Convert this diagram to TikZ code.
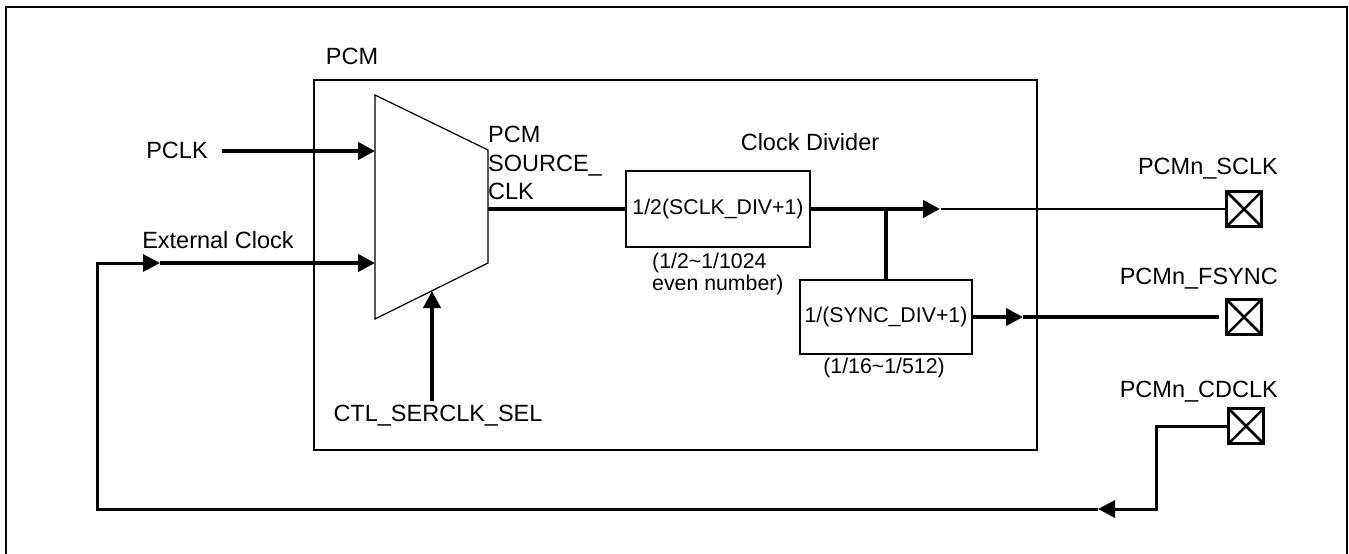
\documentclass[tikz,border=0pt]{standalone}
\usepackage{fontspec}
\setmainfont{Liberation Sans}
\usetikzlibrary{arrows.meta}
\begin{document}
\begin{tikzpicture}[x=1pt,y=-1pt,
  big/.style={font=\fontsize{23.5}{28.5}\selectfont, inner sep=0pt},
  small/.style={font=\fontsize{21.3}{22.5}\selectfont, inner sep=0pt},
  divbox/.style={draw, line width=1.2pt, inner sep=0pt, font=\fontsize{21.3}{22.5}\selectfont},
  pad/.style={draw, line width=3pt, minimum size=35pt, inner sep=0pt,
    path picture={\draw[line width=2.5pt] (path picture bounding box.north west) -- (path picture bounding box.south east)
      (path picture bounding box.north east) -- (path picture bounding box.south west);}},
  sig/.style={line width=4pt},
  fb/.style={line width=3pt},
  tip/.style={-{Triangle[length=17pt,width=17pt]}}
]
\useasboundingbox (0,0) rectangle (1349,554);
% outer frame
\draw[line width=2.2pt] (6,560) -- (6,7) -- (1347,7) -- (1347,560);
% PCM block
\node[draw, line width=1.5pt, minimum width=723pt, minimum height=370pt, inner sep=0pt, anchor=north west] (pcm) at (313,79) {};
\node[big] (pcmlbl) at (352,56) {PCM};
% mux
\draw[line width=1.2pt] (375,95) -- (488,150) -- (488,263) -- (375,319) -- cycle;
\coordinate (muxin1) at (375,151);
\coordinate (muxin2) at (375,263);
\coordinate (muxout) at (488,209);
\coordinate (muxsel) at (432,291);
% labels
\node[big] (pclk) at (177,150) {PCLK};
\node[big] (ext) at (218,240) {External Clock};
\node[big, anchor=west, align=left] (src) at (488,163) {PCM\\SOURCE\_\\CLK};
\node[big] (cdiv) at (810,142) {Clock Divider};
\node[big] (ctl) at (438,416) {CTL\_SERCLK\_SEL};
% dividers
\node[divbox, minimum width=184pt, minimum height=76pt] (box1) at (718,209) {1/2(SCLK\_DIV+1)};
\node[small, anchor=west, align=left] (r1) at (652,274) {(1/2\textasciitilde 1/1024\\ even number)};
\node[divbox, minimum width=172pt, minimum height=74pt] (box2) at (886,317) {1/(SYNC\_DIV+1)};
\node[small] (r2) at (884,368) {(1/16\textasciitilde 1/512)};
% pads
\node[pad] (pad1) at (1244,209) {};
\node[pad] (pad2) at (1244,317) {};
\node[pad] (pad3) at (1246,426) {};
\node[big, anchor=east] (l1) at (1278,169) {PCMn\_SCLK};
\node[big, anchor=east] (l2) at (1278,279) {PCMn\_FSYNC};
\node[big, anchor=east] (l3) at (1278,392) {PCMn\_CDCLK};
% coordinates
\coordinate (pclkstart) at (222,151);
\coordinate (ctlstart) at (432,401);
\coordinate (sclkarrow) at (940,209);
\coordinate (junc) at (886,209);
\coordinate (fsarrow) at (1023,317);
\coordinate (fsend) at (1219,317);
\coordinate (fbarrow) at (1098,509);
\coordinate (fbcorner) at (97,509);
\coordinate (extarrow) at (160,263);
% connectors
\draw[sig, tip] (pclkstart) -- (muxin1);
\draw[sig, tip] (extarrow) -- (muxin2);
\draw[sig, tip] (ctlstart) -- (muxsel);
\draw[sig] (muxout) -- (box1.west);
\draw[sig, tip] (box1.east) -- (sclkarrow);
\draw[line width=2.7pt] ([xshift=1pt]sclkarrow) -- (pad1.west);
\draw[sig] (junc) -- (box2.north);
\draw[sig, tip] (box2.east) -- (fsarrow);
\draw[sig] (fsarrow) -- (fsend);
\draw[fb, tip] (pad3.west) -- ++(-71,0) |- (fbarrow);
\draw[fb, tip] (fbarrow) -- (fbcorner) |- (extarrow);
\end{tikzpicture}
\end{document}
